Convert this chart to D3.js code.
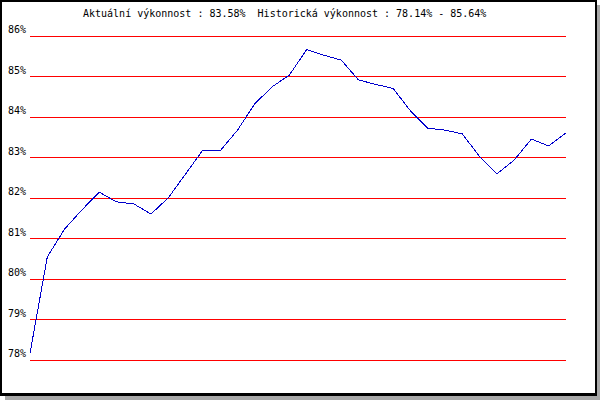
<!DOCTYPE html>
<html>
<head>
<meta charset="utf-8">
<script src="https://cdn.jsdelivr.net/npm/d3@7"></script>
<style>
  body { margin: 0; background: #fff; }
  svg { display: block; }
</style>
</head>
<body>
<svg width="600" height="400"></svg>
<script>
// výkonnost over time
var values = [78.14, 80.52, 81.21, 81.68, 82.12, 81.88, 81.83, 81.58, 81.98, 82.57,
  83.16, 83.14, 83.65, 84.30, 84.72, 85.01, 85.64, 85.50, 85.38, 84.89,
  84.78, 84.68, 84.13, 83.70, 83.65, 83.56, 83.00, 82.57, 82.91, 83.43,
  83.26, 83.58];
var tickValues = [78, 79, 80, 81, 82, 83, 84, 85, 86];
var titleText = "Aktuální výkonnost : 83.58%  Historická výkonnost : 78.14% - 85.64%";

var svg = d3.select("svg");
var font = "'DejaVu Sans Mono', 'Liberation Mono', monospace";

// frame with drop shadow
svg.append("rect").attr("x", 5).attr("y", 5).attr("width", 595).attr("height", 395).attr("fill", "#a8a8a8");
svg.append("rect").attr("x", 0).attr("y", 0).attr("width", 597).attr("height", 396).attr("fill", "#000");
svg.append("rect").attr("x", 2).attr("y", 2).attr("width", 593).attr("height", 391).attr("fill", "#fff");

var plotLeft = 30, plotRight = 566, plotTop = 35, plotBottom = 359;

var x = d3.scaleLinear()
  .domain([0, values.length - 1])
  .range([plotLeft, plotRight]);

var y = d3.scaleLinear()
  .domain([78, 86])
  .range([plotBottom, plotTop]);

svg.append("text")
  .attr("x", 83)
  .attr("y", 17)
  .attr("font-family", font)
  .attr("font-size", 10)
  .attr("fill", "#000")
  .style("white-space", "pre")
  .text(titleText);

// gridlines + labels from the axis
var axis = svg.append("g")
  .attr("transform", "translate(" + plotLeft + ",0.5)")
  .call(d3.axisLeft(y)
    .tickValues(tickValues)
    .tickFormat(function(d) { return d + "%"; })
    .tickSizeInner(-(plotRight - plotLeft))
    .tickSizeOuter(0));

axis.select(".domain").remove();
axis.selectAll(".tick line")
  .attr("stroke", "#ff0000")
  .attr("shape-rendering", "crispEdges");
axis.selectAll(".tick text")
  .attr("x", -4)
  .attr("dy", -3)
  .attr("font-family", font)
  .attr("font-size", 10)
  .attr("fill", "#000");

var line = d3.line()
  .x(function(d, i) { return x(i); })
  .y(function(d) { return y(d); });

svg.append("path")
  .datum(values)
  .attr("d", line)
  .attr("fill", "none")
  .attr("stroke", "#0000cc")
  .attr("stroke-width", 1)
  .attr("shape-rendering", "crispEdges");
</script>
</body>
</html>
